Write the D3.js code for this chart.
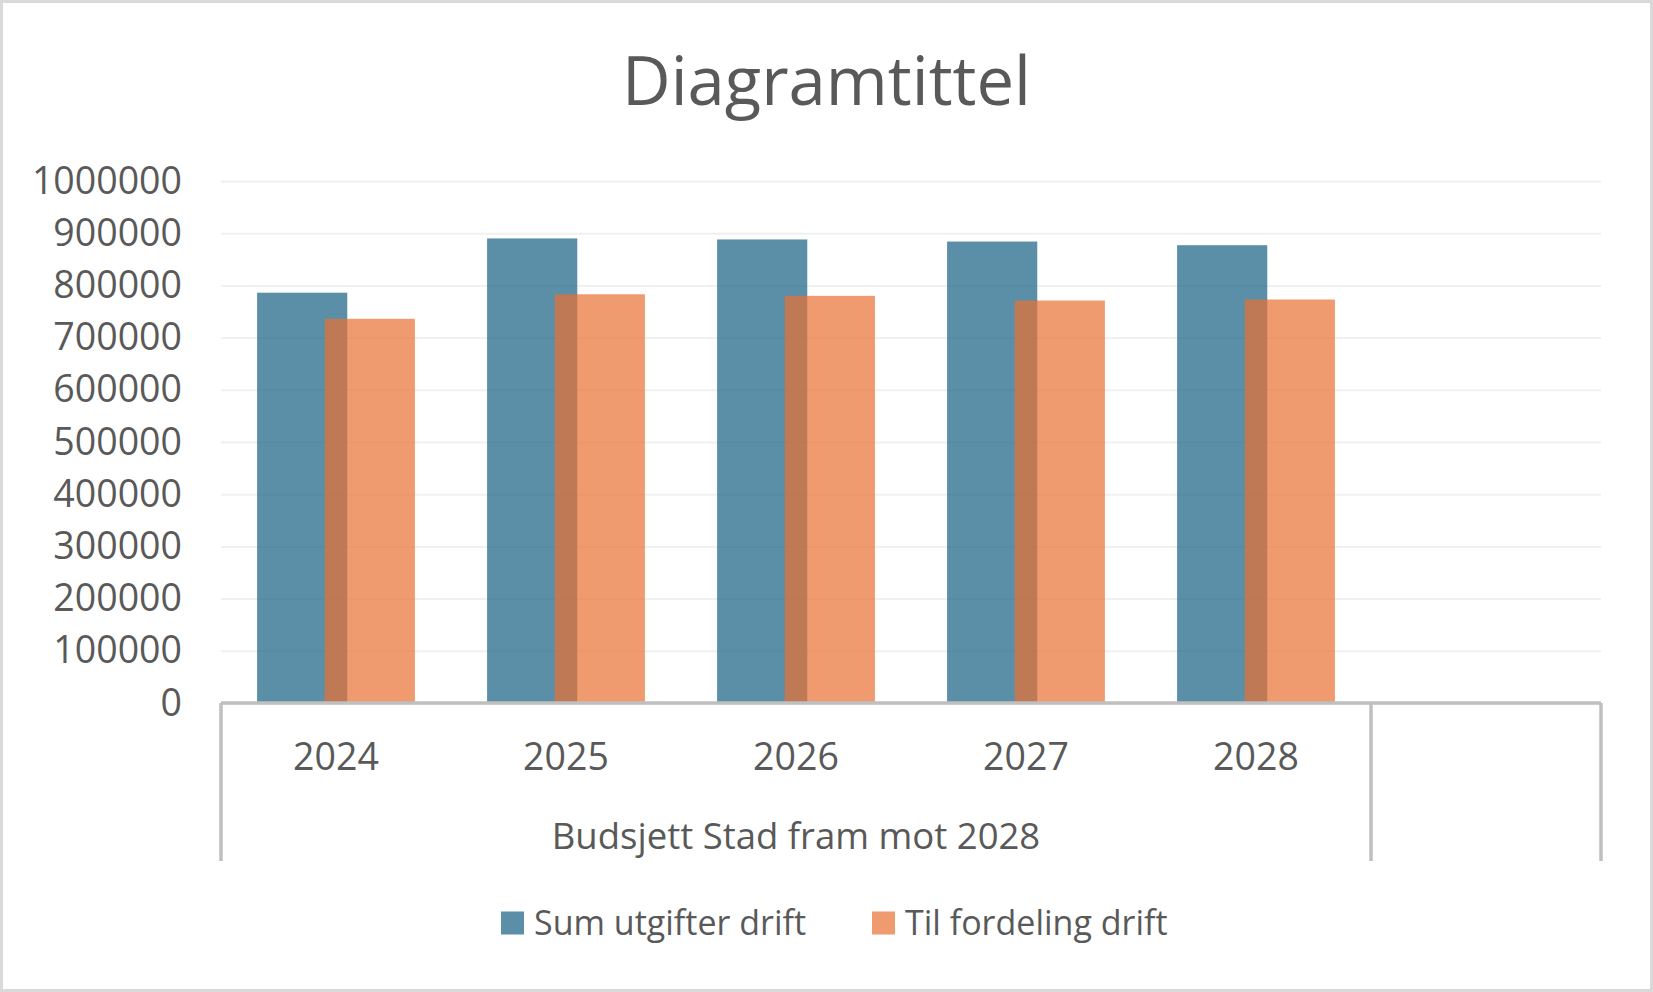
<!DOCTYPE html>
<html>
<head>
<meta charset="utf-8">
<script src="https://cdn.jsdelivr.net/npm/d3@7"></script>
<style>
  html, body { margin: 0; padding: 0; background: #fff; }
  text { font-family: 'Open Sans', sans-serif; fill: #595959; }
</style>
</head>
<body>
<div id="chart"></div>
<script>
// chart data
const categories = ['2024', '2025', '2026', '2027', '2028', ''];
const groupLabel = 'Budsjett Stad fram mot 2028';
const groupSize = 5;
const seriesNames = ['Sum utgifter drift', 'Til fordeling drift'];
const sumUtgifterDrift = [786000, 890000, 888000, 884000, 877000];
const tilFordelingDrift = [736000, 783000, 780000, 771000, 773000];
const yTickValues = [0, 100000, 200000, 300000, 400000, 500000,
  600000, 700000, 800000, 900000, 1000000];
const colors = ['#156082', '#E97132'];

const width = 1653;
const height = 992;
const margin = {top: 181, right: 52, bottom: 289, left: 221};
const plotW = width - margin.left - margin.right;
const plotH = height - margin.top - margin.bottom;

const svg = d3.select('#chart')
    .append('svg')
    .attr('width', width)
    .attr('height', height);

// chart area border
svg.append('rect')
    .attr('x', 1.5).attr('y', 1.5)
    .attr('width', width - 3).attr('height', height - 3)
    .attr('fill', '#fff')
    .attr('stroke', '#d9d9d9')
    .attr('stroke-width', 3);

svg.append('text')
    .attr('x', width / 2)
    .attr('y', 105)
    .attr('text-anchor', 'middle')
    .style('font-size', '67px')
    .text('Diagramtittel');

const g = svg.append('g')
    .attr('transform', 'translate(' + margin.left + ',' + margin.top + ')');

const x = d3.scaleBand()
    .domain(d3.range(categories.length))
    .range([0, plotW]);

const y = d3.scaleLinear()
    .domain([0, 1000000])
    .range([plotH, 0]);

// gridlines + y labels
const yAxis = g.append('g')
    .call(d3.axisLeft(y)
        .tickValues(yTickValues)
        .tickFormat(d3.format('d'))
        .tickSize(-plotW)
        .tickPadding(39));
yAxis.select('.domain').remove();
yAxis.selectAll('line')
    .attr('stroke', '#f0f0f0')
    .attr('stroke-width', 2);
yAxis.selectAll('text')
    .style('font-size', '37.5px')
    .attr('fill', '#595959');

// bars: excel style, gap width 80%, overlap 25%
const gap = 0.8;
const overlap = 0.25;
const barW = x.bandwidth() / (2 - overlap + gap);
const step = barW * (1 - overlap);
const series = [sumUtgifterDrift, tilFordelingDrift];

series.forEach((values, si) => {
  g.append('g')
      .selectAll('rect')
      .data(values)
      .join('rect')
      .attr('x', (d, i) => x(i) + barW * gap / 2 + si * step)
      .attr('y', (d) => y(d))
      .attr('width', barW)
      .attr('height', (d) => y(0) - y(d))
      .attr('fill', colors[si])
      .attr('fill-opacity', 0.7);
});

// multi-level category axis
const axisColor = '#bfbfbf';
const levelH = 158;
const xAxis = g.append('g')
    .attr('transform', 'translate(0,' + plotH + ')')
    .call(d3.axisBottom(x)
        .tickFormat((i) => categories[i])
        .tickSize(0)
        .tickPadding(40));
xAxis.select('.domain').remove();
xAxis.selectAll('text')
    .style('font-size', '37.5px')
    .attr('fill', '#595959');

xAxis.append('line')
    .attr('x1', 0).attr('x2', plotW)
    .attr('y1', 0).attr('y2', 0)
    .attr('stroke', axisColor)
    .attr('stroke-width', 3.5);

const dividers = [0, groupSize, categories.length];
xAxis.selectAll('.divider')
    .data(dividers)
    .join('line')
    .attr('class', 'divider')
    .attr('x1', (i) => i === categories.length ? plotW : x(i))
    .attr('x2', (i) => i === categories.length ? plotW : x(i))
    .attr('y1', 0)
    .attr('y2', levelH)
    .attr('stroke', axisColor)
    .attr('stroke-width', 3.5);

xAxis.append('text')
    .attr('x', (x(0) + x(groupSize - 1) + x.bandwidth()) / 2)
    .attr('y', 146)
    .attr('text-anchor', 'middle')
    .style('font-size', '36.5px')
    .text(groupLabel);

// legend
const legendItems = [
  {name: seriesNames[0], color: colors[0], x: 501},
  {name: seriesNames[1], color: colors[1], x: 872},
];
const legend = svg.append('g').attr('transform', 'translate(0,923)');
legendItems.forEach((item) => {
  legend.append('rect')
      .attr('x', item.x)
      .attr('y', -11.5)
      .attr('width', 23)
      .attr('height', 23)
      .attr('fill', item.color)
      .attr('fill-opacity', 0.7);
  legend.append('text')
      .attr('x', item.x + 33)
      .attr('y', 0)
      .attr('dy', '0.35em')
      .style('font-size', '34px')
      .text(item.name);
});
</script>
</body>
</html>
